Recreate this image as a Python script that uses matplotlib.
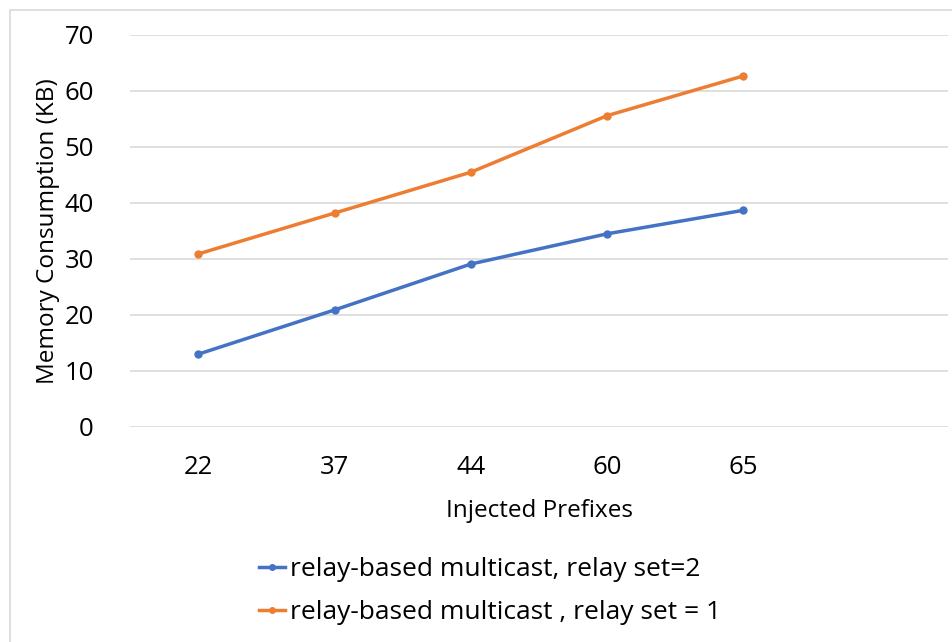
import matplotlib.pyplot as plt
from matplotlib.lines import Line2D
from matplotlib.patches import Rectangle
import numpy as np

prefixes = ['22', '37', '44', '60', '65', '']
relay_set_2 = [13.0, 20.9, 29.1, 34.5, 38.7]
relay_set_1 = [30.9, 38.2, 45.5, 55.6, 62.7]
series_names = ['relay-based multicast, relay set=2',
                'relay-based multicast , relay set = 1']

blue = '#4472C4'
orange = '#ED7D31'

plt.rcParams['font.family'] = ['Open Sans', 'DejaVu Sans']

fig = plt.figure(figsize=(9.53, 6.42), dpi=100)
ax = fig.add_axes([130 / 953, 1 - 427 / 642, 818 / 953, 392 / 642])

x = np.arange(len(relay_set_2))
ax.plot(x, relay_set_2, color=blue, lw=2.5, marker='o', ms=5)
ax.plot(x, relay_set_1, color=orange, lw=2.5, marker='o', ms=5)

ax.set_xlim(-0.5, len(prefixes) - 0.5)
ax.set_ylim(0, 70)
ax.set_yticks(np.arange(0, 71, 10))
ax.set_xticks(np.arange(len(prefixes)))
ax.set_xticklabels(prefixes)
ax.grid(axis='y', color='#D9D9D9', lw=1.2)
ax.set_axisbelow(True)
for s in ax.spines.values():
    s.set_visible(False)
ax.tick_params(length=0, labelsize=18.5, pad=20)
ax.tick_params(axis='y', pad=26)
ax.set_xlabel('Injected Prefixes', fontsize=17.5, labelpad=14)
ax.set_ylabel('Memory Consumption (KB)', fontsize=17.5, labelpad=3)

# chart border
fig.patches.append(Rectangle((10 / 953, -0.1), 1.2, 1 - 10 / 642 + 0.1,
                             transform=fig.transFigure, fill=False,
                             edgecolor='#D9D9D9', lw=1.2))

handles = [Line2D([], [], color=blue, lw=2.5, marker='o', ms=4),
           Line2D([], [], color=orange, lw=2.5, marker='o', ms=4)]
fig.legend(handles, series_names, loc='center', bbox_to_anchor=(490 / 953, 1 - 591 / 642),
           ncol=1, frameon=False, fontsize=19, handlelength=1.0, handletextpad=0.2,
           labelspacing=0.7)

fig.savefig('out.png', dpi=100)
